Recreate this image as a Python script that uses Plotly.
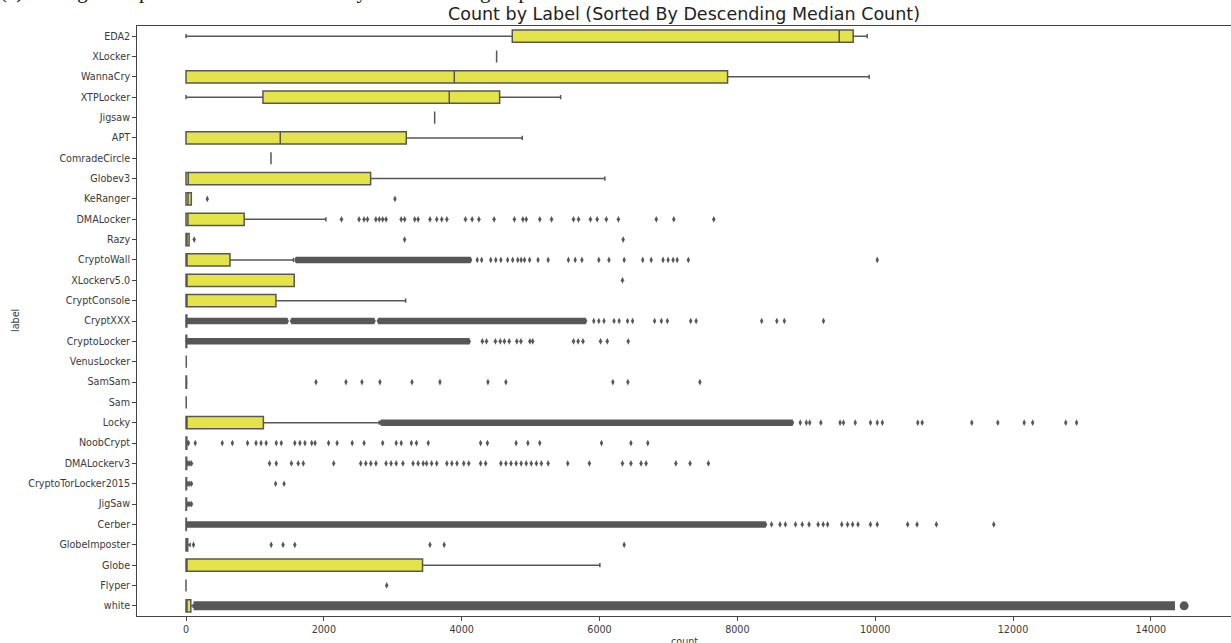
import plotly.graph_objects as go

# ---- categories, top to bottom (sorted by descending median count) ----
labels = ["EDA2", "XLocker", "WannaCry", "XTPLocker", "Jigsaw", "APT", "ComradeCircle",
          "Globev3", "KeRanger", "DMALocker", "Razy", "CryptoWall", "XLockerv5.0",
          "CryptConsole", "CryptXXX", "CryptoLocker", "VenusLocker", "SamSam", "Sam",
          "Locky", "NoobCrypt", "DMALockerv3", "CryptoTorLocker2015", "JigSaw", "Cerber",
          "GlobeImposter", "Globe", "Flyper", "white"]

# ---- box statistics per label ----
lower_fence = [0, 4507, 0, 0, 3608, 0, 1233, 0, 0, 0, 0, 0, 0, 0, 0, 0, 0, 0, 0,
               0, 0, 0, 0, 0, 0, 0, 0, 0, 0]
q1 = [4734, 4507, 0, 1117, 3608, 0, 1233, 0, 0, 0, 0, 0, 0, 0, 0, 0, 0, 0, 0,
      0, 0, 0, 0, 0, 0, 0, 0, 0, 0]
median = [9478, 4507, 3893, 3820, 3608, 1368, 1233, 32, 30, 28, 12, 10, 9, 8, 6, 5, 4, 4, 3,
          3, 2, 2, 1, 1, 1, 1, 0, 0, 0]
q3 = [9681, 4507, 7858, 4551, 3608, 3196, 1233, 2679, 77, 844, 45, 638, 1570, 1305, 12, 10,
      0, 8, 0, 1123, 12, 10, 8, 8, 5, 25, 3432, 0, 70]
upper_fence = [9884, 4507, 9913, 5436, 3608, 4879, 1233, 6078, 77, 2030, 45, 1560, 1570, 3187,
               28, 20, 0, 10, 0, 2804, 20, 20, 18, 18, 12, 60, 6005, 0, 105]

# ---- isolated outliers ----
keranger_out = [309, 3032]
dmalocker_out = [2256, 2511, 2584, 2633, 2755, 2805, 2854, 2903, 3123, 3172, 3319, 3368,
                 3540, 3638, 3711, 3785, 4055, 4152, 4250, 4471, 4765, 4888, 4937, 5133,
                 5304, 5623, 5696, 5868, 5966, 6099, 6274, 6824, 7078, 7658]
razy_out = [119, 3172, 6343]
cryptowall_out = [4226, 4290, 4422, 4495, 4569, 4667, 4740, 4814, 4863, 4912, 4986, 5108,
                  5255, 5549, 5647, 5745, 5990, 6137, 6358, 6627, 6750, 6922, 6995, 7068,
                  7127, 7289, 10030]
xlockerv5_out = [6333]
cryptxxx_out = [5917, 5990, 6065, 6211, 6285, 6407, 6480, 6799, 6897, 6985, 7323, 7402,
                8353, 8573, 8682, 9250]
cryptolocker_out = [4300, 4360, 4490, 4560, 4620, 4690, 4800, 4860, 4990, 5030, 5623, 5690,
                    5760, 6015, 6113, 6417]
samsam_out = [1886, 2321, 2553, 2814, 3279, 3685, 4381, 4642, 6194, 6412, 7457]
locky_out = [8913, 9001, 9050, 9212, 9491, 9540, 9711, 9932, 10030, 10104, 10618, 10682,
             11402, 11780, 12162, 12285, 12765, 12922]
noobcrypt_out = [36, 134, 526, 673, 893, 1016, 1089, 1163, 1310, 1383, 1579, 1653, 1726,
                 1824, 1873, 2069, 2192, 2412, 2584, 2854, 3050, 3123, 3270, 3344, 3515,
                 4275, 4373, 4790, 4961, 5133, 6029, 6456, 6701]
dmalockerv3_out = [30, 55, 80, 1212, 1310, 1530, 1628, 1702, 2143, 2535, 2609, 2682, 2756,
                   2903, 2976, 3050, 3148, 3295, 3368, 3442, 3491, 3564, 3638, 3785, 3858,
                   3932, 4030, 4103, 4275, 4348, 4569, 4642, 4716, 4790, 4863, 4937, 5010,
                   5084, 5157, 5255, 5539, 5853, 6333, 6456, 6603, 6676, 7108, 7314, 7580]
cryptotorlocker_out = [30, 55, 80, 1300, 1423]
jigsaw_out = [30, 55, 80]
cerber_out = [8496, 8619, 8697, 8844, 8942, 9040, 9172, 9246, 9310, 9515, 9599, 9672, 9751,
              9932, 10030, 10471, 10608, 10888, 11721]
globeimposter_out = [109, 1236, 1408, 1579, 3540, 3746, 6358]
flyper_out = [2912]
white_out = [14483]

# ---- outlier runs so dense that the markers merge into a solid band: (first, last) ----
cryptxxx_runs = [(15, 1470), (1530, 2730), (2790, 5800)]
cryptolocker_runs = [(10, 4110)]
cryptowall_runs = [(1595, 4130)]
locky_runs = [(2830, 8800)]
cerber_runs = [(15, 8410)]
white_runs = [(110, 14350)]

x_ticks = [0, 2000, 4000, 6000, 8000, 10000, 12000, 14000]

outliers = {
    "KeRanger": keranger_out, "DMALocker": dmalocker_out, "Razy": razy_out,
    "CryptoWall": cryptowall_out, "XLockerv5.0": xlockerv5_out, "CryptXXX": cryptxxx_out,
    "CryptoLocker": cryptolocker_out, "SamSam": samsam_out, "Locky": locky_out,
    "NoobCrypt": noobcrypt_out, "DMALockerv3": dmalockerv3_out,
    "CryptoTorLocker2015": cryptotorlocker_out, "JigSaw": jigsaw_out, "Cerber": cerber_out,
    "GlobeImposter": globeimposter_out, "Flyper": flyper_out,
}
runs = {
    "CryptXXX": cryptxxx_runs, "CryptoLocker": cryptolocker_runs,
    "CryptoWall": cryptowall_runs, "Locky": locky_runs, "Cerber": cerber_runs,
}

BOX_FILL = "#e4e44a"
GRAY = "#575757"
FONT = "DejaVu Sans"

fig = go.Figure()

# boxes from precomputed statistics
fig.add_trace(go.Box(
    y=labels, q1=q1, median=median, q3=q3,
    lowerfence=lower_fence, upperfence=upper_fence,
    orientation="h", boxpoints=False, width=0.6, whiskerwidth=0.35,
    fillcolor=BOX_FILL, line=dict(color=GRAY, width=1.5),
    showlegend=False, hoverinfo="skip",
))

# dense outlier bands
band_x, band_y = [], []
for lab, segs in runs.items():
    for a, b in segs:
        band_x += [a, b, None]
        band_y += [lab, lab, None]
fig.add_trace(go.Scatter(
    x=band_x, y=band_y, mode="lines+markers",
    line=dict(color=GRAY, width=6.5),
    marker=dict(symbol="diamond-tall", size=4.8, color=GRAY, line=dict(width=0)),
    showlegend=False, hoverinfo="skip",
))
wx, wy = [], []
for a, b in white_runs:
    wx += [a, b, None]
    wy += ["white", "white", None]
fig.add_trace(go.Scatter(
    x=wx, y=wy, mode="lines", line=dict(color=GRAY, width=9),
    showlegend=False, hoverinfo="skip",
))

# isolated outliers
ox, oy = [], []
for lab, vals in outliers.items():
    ox += vals
    oy += [lab] * len(vals)
fig.add_trace(go.Scatter(
    x=ox, y=oy, mode="markers",
    marker=dict(symbol="diamond-tall", size=4.8, color=GRAY, line=dict(width=0)),
    showlegend=False, hoverinfo="skip",
))
fig.add_trace(go.Scatter(
    x=white_out, y=["white"] * len(white_out), mode="markers",
    marker=dict(symbol="circle", size=9, color=GRAY, line=dict(width=0)),
    showlegend=False, hoverinfo="skip",
))

fig.update_layout(
    width=1231, height=643,
    margin=dict(l=137, r=0, t=26, b=27),
    paper_bgcolor="white", plot_bgcolor="white",
    font=dict(family=FONT, size=9.6, color="#3a3a3a"),
    title=dict(text="Count by Label (Sorted By Descending Median Count)",
               font=dict(family=FONT, size=17.5, color="#222222"),
               x=0.5, xref="paper", xanchor="center",
               y=1 - 14 / 643, yref="container", yanchor="middle"),
    xaxis=dict(range=[-711, 15163], tickvals=x_ticks, ticktext=[str(v) for v in x_ticks],
               ticks="outside", ticklen=4, tickcolor="#444444", tickwidth=1,
               showline=True, linecolor="#444444", linewidth=1, mirror=True,
               showgrid=False, zeroline=False),
    yaxis=dict(type="category", categoryorder="array", categoryarray=labels,
               range=[28.5, -0.5], ticks="outside", ticklen=4, tickcolor="#444444",
               tickwidth=1, showline=True, linecolor="#444444", linewidth=1,
               showgrid=False, zeroline=False),
    annotations=[
        dict(text="count", xref="paper", yref="paper", x=0.5, y=0, yshift=-18,
             xanchor="center", yanchor="top", showarrow=False,
             font=dict(family=FONT, size=9.6, color="#3a3a3a")),
        dict(text="label", xref="paper", yref="paper", x=0, xshift=-122, y=0.5,
             xanchor="center", yanchor="middle", textangle=-90, showarrow=False,
             font=dict(family=FONT, size=9.6, color="#3a3a3a")),
        dict(text="(c) Average box plot of the count feature by ransomware group",
             xref="paper", yref="paper",
             x=0, xshift=-139, y=1, yshift=21, xanchor="left", yanchor="bottom",
             showarrow=False, font=dict(family="Liberation Serif", size=21, color="#111111")),
    ],
)

fig.write_html("out.html")
